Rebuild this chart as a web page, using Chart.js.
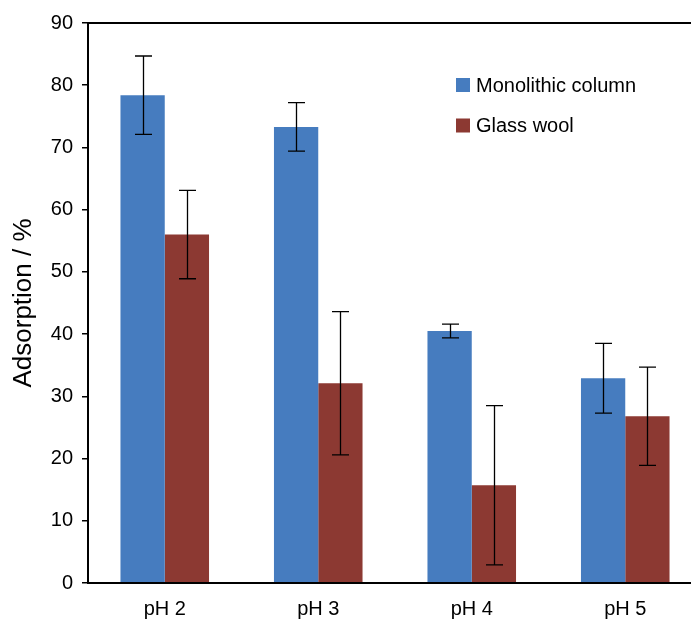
<!DOCTYPE html>
<html>
<head>
<meta charset="utf-8">
<script src="https://cdn.jsdelivr.net/npm/chart.js@4.4.1/dist/chart.umd.min.js"></script>
<style>
  html, body { margin: 0; padding: 0; background: #fff; overflow: hidden; }
  #wrap { width: 705px; height: 619px; }
</style>
</head>
<body>
<div id="wrap"><canvas id="c" width="705" height="619"></canvas></div>
<script>
// Adsorption at different pH values, mean ± standard deviation
const categories = ['pH 2', 'pH 3', 'pH 4', 'pH 5'];
const monolithic = [78.4, 73.3, 40.5, 32.9];
const monolithicErr = [6.3, 3.9, 1.1, 5.6];
const glassWool = [56.0, 32.1, 15.7, 26.8];
const glassWoolErr = [7.1, 11.5, 12.8, 7.9];
const yTicks = [0, 10, 20, 30, 40, 50, 60, 70, 80, 90];

const FONT = '"Liberation Sans", Arial, Helvetica, sans-serif';
const BLUE = '#467cbf';
const RED = '#8c3932';
const INK = '#000';

// Black frame around the plot area
const framePlugin = {
  id: 'frame',
  afterDraw(chart) {
    const { ctx, chartArea: a } = chart;
    ctx.save();
    ctx.strokeStyle = '#000';
    ctx.lineWidth = 2;
    ctx.strokeRect(a.left, a.top, a.right - a.left, a.bottom - a.top);
    ctx.restore();
  }
};

// Vertical error bars with caps, one per bar
const errorBarPlugin = {
  id: 'errorBars',
  afterDatasetsDraw(chart) {
    const { ctx } = chart;
    const y = chart.scales.y;
    ctx.save();
    ctx.strokeStyle = '#000';
    ctx.lineWidth = 1.3;
    chart.data.datasets.forEach((ds, i) => {
      const meta = chart.getDatasetMeta(i);
      meta.data.forEach((bar, j) => {
        const v = ds.data[j], e = ds.errors[j];
        const x = Math.round(bar.x) + 0.5;
        const yt = y.getPixelForValue(v + e);
        const yb = y.getPixelForValue(v - e);
        const cap = 8.5;
        ctx.beginPath();
        ctx.moveTo(x, yt); ctx.lineTo(x, yb);
        ctx.moveTo(x - cap, yt); ctx.lineTo(x + cap, yt);
        ctx.moveTo(x - cap, yb); ctx.lineTo(x + cap, yb);
        ctx.stroke();
      });
    });
    ctx.restore();
  }
};

// Legend inside the plot, upper right
const legendPlugin = {
  id: 'insideLegend',
  afterDraw(chart) {
    const { ctx } = chart;
    ctx.save();
    ctx.font = '20px ' + FONT;
    ctx.textBaseline = 'middle';
    ctx.textAlign = 'left';
    const rows = [85, 125.5];
    chart.data.datasets.forEach((ds, i) => {
      const cy = rows[i];
      ctx.fillStyle = ds.backgroundColor;
      ctx.fillRect(456, cy - 7, 14, 14);
      ctx.fillStyle = INK;
      ctx.fillText(ds.label, 476, cy + 1);
    });
    ctx.restore();
  }
};

new Chart(document.getElementById('c'), {
  type: 'bar',
  data: {
    labels: categories,
    datasets: [
      { label: 'Monolithic column', data: monolithic, errors: monolithicErr, backgroundColor: BLUE },
      { label: 'Glass wool', data: glassWool, errors: glassWoolErr, backgroundColor: RED }
    ]
  },
  options: {
    responsive: false,
    animation: false,
    devicePixelRatio: 1,
    layout: { padding: { top: 23, right: 3, left: 0, bottom: 0 } },
    datasets: { bar: { categoryPercentage: 0.577, barPercentage: 1.0 } },
    plugins: { legend: { display: false }, tooltip: { enabled: false } },
    scales: {
      x: {
        border: { display: false },
        grid: { display: false, drawTicks: false },
        ticks: { color: INK, font: { family: FONT, size: 20 }, padding: 14 },
        afterFit(s) { s.height = 36; }
      },
      y: {
        min: 0, max: 90,
        afterBuildTicks(s) { s.ticks = yTicks.map(v => ({ value: v })); },
        border: { display: false },
        grid: { drawOnChartArea: false, drawTicks: true, tickLength: 6, color: '#000', lineWidth: 1.5 },
        ticks: { color: INK, font: { family: FONT, size: 20 }, padding: 9 },
        title: { display: true, text: 'Adsorption / %', color: INK, font: { family: FONT, size: 26 }, padding: { top: 8, bottom: 0 } },
        afterFit(s) { s.width = 88; }
      }
    }
  },
  plugins: [framePlugin, errorBarPlugin, legendPlugin]
});
</script>
</body>
</html>
